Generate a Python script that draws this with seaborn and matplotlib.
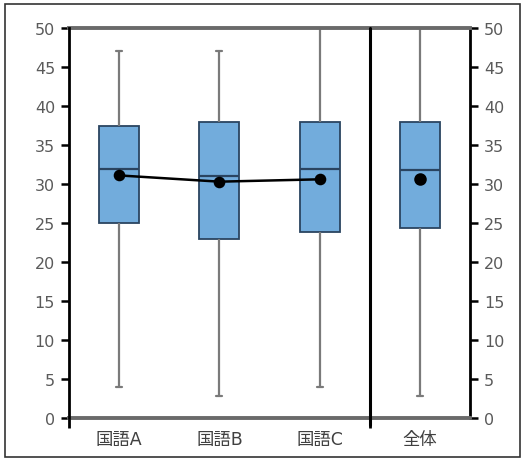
import numpy as np
import pandas as pd
import matplotlib
matplotlib.use("Agg")
import matplotlib.pyplot as plt
from matplotlib.patches import Rectangle
import seaborn as sns

# ---- data ----
categories = ['国語A', '国語B', '国語C', '全体']
mins = [4.0, 2.8, 4.0, 2.8]
q1s = [25.0, 22.9, 23.9, 24.3]
medians = [31.9, 31.0, 31.9, 31.8]
q3s = [37.5, 38.0, 38.0, 38.0]
maxs = [47.0, 47.0, 50.0, 50.0]
means = [31.1, 30.3, 30.6, 30.6]
yticks = [0, 5, 10, 15, 20, 25, 30, 35, 40, 45, 50]

# five-number summaries as long-form data (quartiles reproduce exactly)
rows = []
for c, a, b, m, d, e in zip(categories, mins, q1s, medians, q3s, maxs):
    for v in (a, b, m, d, e):
        rows.append({'subject': c, 'score': v})
df = pd.DataFrame(rows)
dfm = pd.DataFrame({'subject': categories, 'mean': means})

sns.set_style('white')
plt.rcParams['font.family'] = ['DejaVu Sans', 'Noto Sans CJK JP']

fig = plt.figure(figsize=(5.24, 4.64), dpi=100)
ax = fig.add_axes([69 / 524, 1 - 419 / 464, (470 - 69) / 524, (419 - 29) / 464])

box_face = '#72ACDC'
box_edge = '#2A4460'
whisk = '#7A7A7A'

sns.boxplot(data=df, x='subject', y='score', order=categories, whis=np.inf,
            width=0.4, color=box_face, saturation=1, showfliers=False,
            linecolor=box_edge, linewidth=1.3,
            whiskerprops=dict(color=whisk, linewidth=1.6),
            capprops=dict(color=whisk, linewidth=1.6),
            medianprops=dict(color=box_edge, linewidth=1.6),
            ax=ax)

# narrow the whisker caps
for ln in ax.lines:
    xd = np.asarray(ln.get_xdata(), dtype=float)
    yd = np.asarray(ln.get_ydata(), dtype=float)
    if len(xd) == 2 and yd[0] == yd[1] and ln.get_color() == whisk:
        span = abs(xd[1] - xd[0])
        if 0.05 < span < 0.35:
            c = xd.mean()
            ln.set_xdata([c - 0.03, c + 0.03])

# mean line for the three subjects, and the overall mean as a lone dot
sns.pointplot(data=dfm.iloc[:3], x='subject', y='mean', order=categories,
              color='black', markers='o', markersize=7, linewidth=1.8,
              errorbar=None, ax=ax, zorder=5)
sns.pointplot(data=dfm.iloc[3:], x='subject', y='mean', order=categories,
              color='black', markers='o', markersize=7, linestyles='none',
              errorbar=None, ax=ax, zorder=5)

ax.set_xlim(-0.5, 3.5)
ax.set_ylim(0, 50)
ax.set_xlabel('')
ax.set_ylabel('')
ax.grid(False)

# divider between subjects and overall
ax.axvline(2.5, ymin=-7 / 390, ymax=1, color='black', lw=2.2, clip_on=False, zorder=6)

# spines
for s in ['left', 'right']:
    ax.spines[s].set_visible(True)
    ax.spines[s].set_color('black')
    ax.spines[s].set_linewidth(2)
for s in ['top', 'bottom']:
    ax.spines[s].set_visible(True)
    ax.spines[s].set_color('#6A6A6A')
    ax.spines[s].set_linewidth(2.8)
ax.spines['left'].set_zorder(7)

ax.set_yticks(yticks)
ax.set_yticklabels([str(t) for t in yticks])
ax.tick_params(axis='y', which='major', left=True, right=True, labelleft=True,
               labelright=True, direction='out', length=6, width=1.8,
               color='black', labelcolor='#5A5A5A', labelsize=11.5, pad=4)
ax.set_xticks(range(len(categories)))
ax.set_xticklabels(categories)
ax.tick_params(axis='x', which='major', length=0, labelsize=12.5,
               labelcolor='#404040', pad=9)
ax.set_xticks([-0.5, 2.5], minor=True)
ax.tick_params(axis='x', which='minor', bottom=True, direction='out',
               length=7, width=2, color='black')

# outer frame of the picture
fig.patches.append(Rectangle((5 / 524, 1 - 458 / 464), 515 / 524, 453 / 464,
                             transform=fig.transFigure, fill=False,
                             edgecolor='#333333', linewidth=1.2))

fig.savefig('out.png', dpi=100)
